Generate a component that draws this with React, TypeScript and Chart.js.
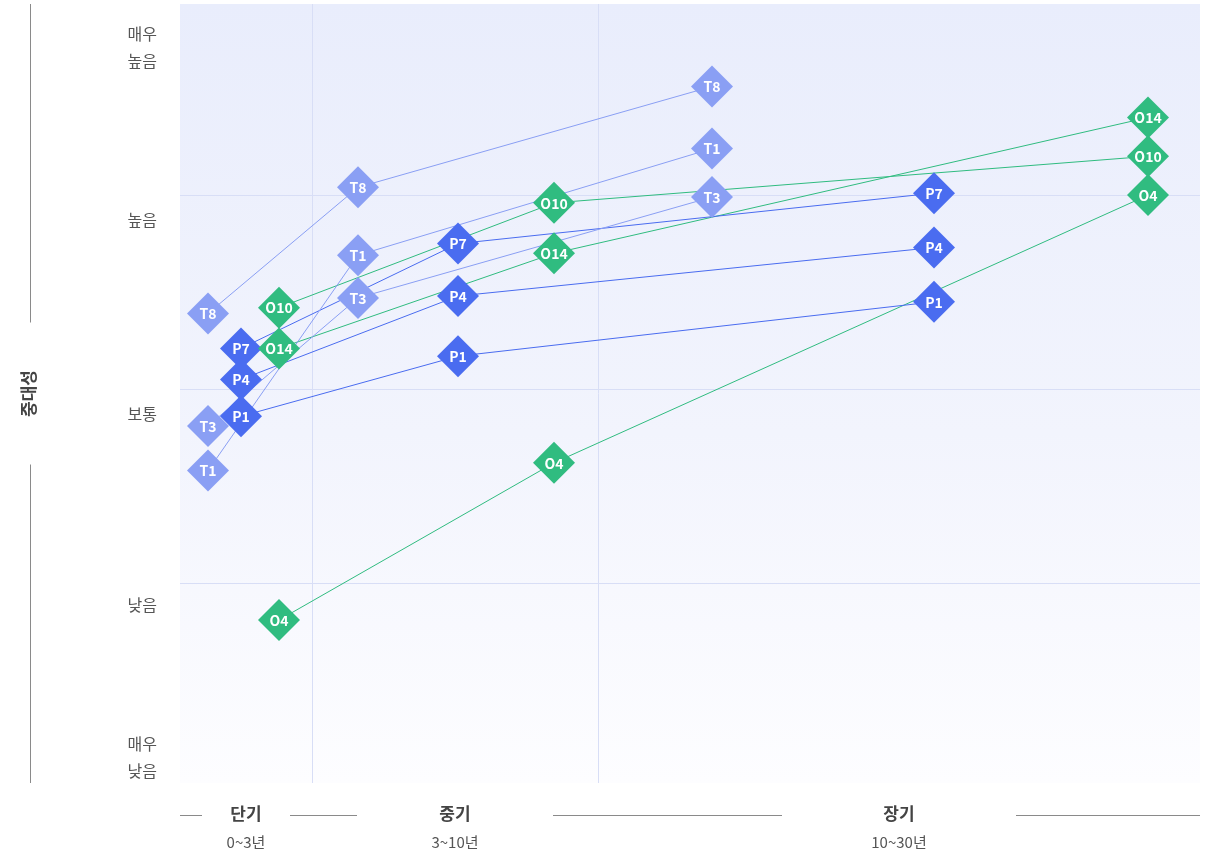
import React, { useEffect, useRef } from 'react';
import { Chart, registerables } from 'chart.js';

Chart.register(...registerables);

// ---- Data ----
const periodNames = ['단기', '중기', '장기'];
const periodRanges = ['0~3년', '3~10년', '10~30년'];
const periodBounds = [0, 132, 418, 1020];

const levelLabels: (string | string[])[] = [['매우', '낮음'], '낮음', '보통', '높음', ['매우', '높음']];
const levelLabelPositions = [0.1, 0.89, 1.87, 2.87, 3.76];
const levelGrid = [1, 2, 3];

// x positions (timeline units) of each group within the three periods
const xT = [28, 178, 532];
const xP = [61, 278, 754];
const xO = [99, 374, 968];

const seriesNames = ['T8', 'T3', 'T1', 'P7', 'P4', 'P1', 'O10', 'O14', 'O4'];
const T8 = [2.39, 3.04, 3.56];
const T3 = [1.81, 2.47, 2.99];
const T1 = [1.58, 2.69, 3.24];
const P7 = [2.21, 2.75, 3.01];
const P4 = [2.05, 2.48, 2.73];
const P1 = [1.86, 2.17, 2.45];
const O10 = [2.42, 2.96, 3.2];
const O14 = [2.21, 2.7, 3.4];
const O4 = [0.81, 1.62, 3.0];

const colorT = '#8a9ff4';
const colorP = '#4a6cf0';
const colorO = '#30bc80';

const FONT = "'Noto Sans CJK KR', 'Noto Sans', sans-serif";

const series = [
  { name: seriesNames[0], values: T8, xs: xT, color: colorT },
  { name: seriesNames[1], values: T3, xs: xT, color: colorT },
  { name: seriesNames[2], values: T1, xs: xT, color: colorT },
  { name: seriesNames[3], values: P7, xs: xP, color: colorP },
  { name: seriesNames[4], values: P4, xs: xP, color: colorP },
  { name: seriesNames[5], values: P1, xs: xP, color: colorP },
  { name: seriesNames[6], values: O10, xs: xO, color: colorO },
  { name: seriesNames[7], values: O14, xs: xO, color: colorO },
  { name: seriesNames[8], values: O4, xs: xO, color: colorO },
];

const Y_MIN = -0.03;
const Y_MAX = 3.985;
const GRID_COLOR = '#d8def6';

export default function App() {
  const canvasRef = useRef<HTMLCanvasElement | null>(null);

  useEffect(() => {
    if (!canvasRef.current) return;

    const lineDatasets = series.map((s) => ({
      type: 'line' as const,
      label: s.name,
      data: s.xs.map((x, i) => ({ x, y: s.values[i] })),
      borderColor: s.color,
      backgroundColor: s.color,
      borderWidth: 1,
      pointRadius: 0,
      showLine: true,
      fill: false,
      tension: 0,
      order: 1,
    }));

    const diamondPoints: { x: number; y: number }[] = [];
    const diamondColors: string[] = [];
    const diamondNames: string[] = [];
    series.forEach((s) => {
      s.xs.forEach((x, i) => {
        diamondPoints.push({ x, y: s.values[i] });
        diamondColors.push(s.color);
        diamondNames.push(s.name);
      });
    });

    const diamondDataset = {
      type: 'scatter' as const,
      label: 'diamonds',
      data: diamondPoints,
      backgroundColor: diamondColors,
      borderWidth: 0,
      pointStyle: 'rectRot',
      pointRadius: 21,
      pointHoverRadius: 21,
      showLine: false,
      order: 0,
    };

    const bgPlugin = {
      id: 'bg',
      beforeDraw(chart: any) {
        const { ctx, chartArea } = chart;
        const g = ctx.createLinearGradient(0, chartArea.top, 0, chartArea.bottom);
        g.addColorStop(0, '#e9edfc');
        g.addColorStop(0.55, '#f2f4fd');
        g.addColorStop(1, '#fdfdff');
        ctx.save();
        ctx.fillStyle = g;
        ctx.fillRect(chartArea.left, chartArea.top, chartArea.right - chartArea.left, chartArea.bottom - chartArea.top);
        ctx.restore();
      },
    };

    const labelPlugin = {
      id: 'diamondLabels',
      afterDatasetsDraw(chart: any) {
        const { ctx } = chart;
        const meta = chart.getDatasetMeta(series.length);
        ctx.save();
        ctx.fillStyle = '#ffffff';
        ctx.font = `bold 14px ${FONT}`;
        ctx.textAlign = 'center';
        ctx.textBaseline = 'middle';
        meta.data.forEach((el: any, i: number) => {
          ctx.fillText(diamondNames[i], el.x, el.y + 0.5);
        });
        ctx.restore();
      },
    };

    const decorPlugin = {
      id: 'decor',
      afterDraw(chart: any) {
        const { ctx, chartArea } = chart;
        const xs = chart.scales.x;
        ctx.save();
        // left title with lines
        const midY = (chartArea.top + chartArea.bottom) / 2;
        ctx.strokeStyle = '#8a8a8a';
        ctx.lineWidth = 1;
        ctx.beginPath();
        ctx.moveTo(30.5, chartArea.top);
        ctx.lineTo(30.5, midY - 71);
        ctx.moveTo(30.5, midY + 71);
        ctx.lineTo(30.5, chartArea.bottom);
        ctx.stroke();
        ctx.translate(29, midY);
        ctx.rotate(-Math.PI / 2);
        ctx.fillStyle = '#444';
        ctx.font = `bold 17px ${FONT}`;
        ctx.textAlign = 'center';
        ctx.textBaseline = 'middle';
        ctx.fillText('중대성', 0, 0);
        ctx.restore();

        // bottom period labels
        ctx.save();
        const gapHalf = [44, 98, 117];
        const centers = periodNames.map((_, i) =>
          xs.getPixelForValue((periodBounds[i] + periodBounds[i + 1]) / 2)
        );
        const lineY = 815.5;
        ctx.strokeStyle = '#8a8a8a';
        ctx.lineWidth = 1;
        ctx.beginPath();
        let start = chartArea.left;
        centers.forEach((c, i) => {
          ctx.moveTo(start, lineY);
          ctx.lineTo(c - gapHalf[i], lineY);
          start = c + gapHalf[i];
        });
        ctx.moveTo(start, lineY);
        ctx.lineTo(chartArea.right, lineY);
        ctx.stroke();

        ctx.textAlign = 'center';
        ctx.textBaseline = 'middle';
        centers.forEach((c, i) => {
          ctx.fillStyle = '#444';
          ctx.font = `bold 17px ${FONT}`;
          ctx.fillText(periodNames[i], c, 814);
          ctx.fillStyle = '#555';
          ctx.font = `15px ${FONT}`;
          ctx.fillText(periodRanges[i], c, 842);
        });
        ctx.restore();
      },
    };

    const chart = new Chart(canvasRef.current, {
      type: 'scatter',
      data: { datasets: [...lineDatasets, diamondDataset] as any },
      options: {
        animation: false,
        responsive: false,
        maintainAspectRatio: false,
        events: [],
        layout: { autoPadding: false, padding: { top: 4, right: 7, bottom: 73, left: 0 } },
        plugins: {
          legend: { display: false },
          tooltip: { enabled: false },
        },
        scales: {
          x: {
            type: 'linear',
            min: periodBounds[0],
            max: periodBounds[periodBounds.length - 1],
            afterBuildTicks: (s: any) => {
              s.ticks = periodBounds.slice(1, -1).map((v) => ({ value: v }));
            },
            ticks: { display: false },
            grid: { color: GRID_COLOR, drawTicks: false, lineWidth: 1 },
            border: { display: false },
            afterFit: (s: any) => {
              s.height = 0;
            },
          },
          y: {
            type: 'linear',
            position: 'left',
            min: Y_MIN,
            max: Y_MAX,
            afterBuildTicks: (s: any) => {
              s.ticks = levelGrid.map((v) => ({ value: v }));
            },
            ticks: { display: false },
            grid: { color: GRID_COLOR, drawTicks: false, lineWidth: 1 },
            border: { display: false },
            afterFit: (s: any) => {
              s.width = 0;
              s.paddingTop = 0;
              s.paddingBottom = 0;
            },
          },
          yLabels: {
            type: 'linear',
            position: 'left',
            min: Y_MIN,
            max: Y_MAX,
            afterBuildTicks: (s: any) => {
              s.ticks = levelLabelPositions.map((v) => ({ value: v }));
            },
            ticks: {
              autoSkip: false,
              padding: 23,
              color: '#555',
              font: { size: 16, family: FONT, lineHeight: 1.7 },
              callback: (_v: any, i: number) => levelLabels[i] as any,
            },
            grid: { display: false, drawTicks: false },
            border: { display: false },
            afterFit: (s: any) => {
              s.width = 180;
              s.paddingTop = 0;
              s.paddingBottom = 0;
            },
          },
        } as any,
      },
      plugins: [bgPlugin, labelPlugin, decorPlugin],
    });

    return () => {
      chart.destroy();
    };
  }, []);

  return (
    <div style={{ position: 'absolute', left: 0, top: 0, width: 1207, height: 856 }}>
      <canvas ref={canvasRef} width={1207} height={856} style={{ display: 'block' }} />
    </div>
  );
}
